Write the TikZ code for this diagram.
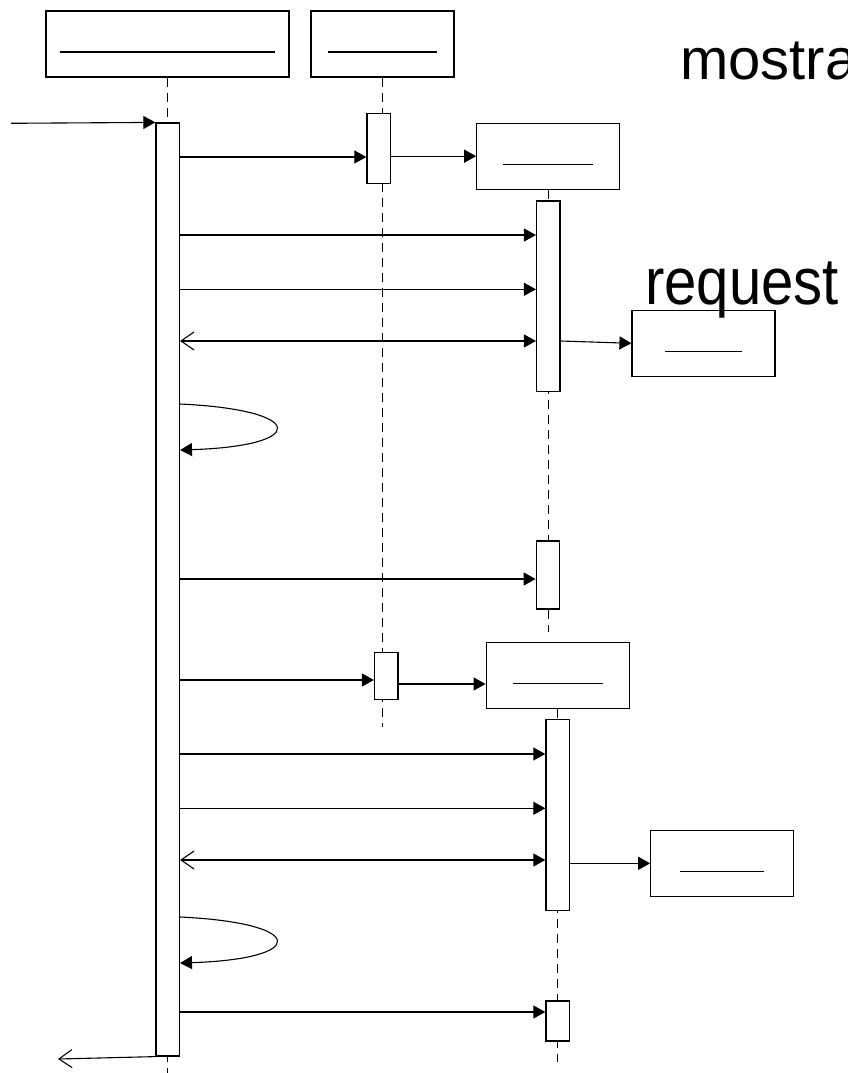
\documentclass[tikz,border=0pt]{standalone}
\usepackage{fontspec}
\setmainfont{Liberation Sans}
\usetikzlibrary{arrows.meta}
\tikzstyle{obj} = [draw,line width=1.2pt,inner sep=0pt,minimum width=143pt,minimum height=66pt]
\tikzstyle{act} = [draw,line width=1.2pt,fill=white,inner sep=0pt,minimum width=23.5pt]
\tikzstyle{life} = [line width=1.1pt,dash pattern=on 9pt off 6pt]
\tikzstyle{blank} = [line width=1.2pt]
\tikzstyle{msg} = [draw,line width=1.1pt,-{Triangle[length=12pt,width=13pt]}]
\tikzstyle{ret} = [draw,line width=1.1pt,-{Straight Barb[length=13pt,width=18pt]}]
\tikzstyle{both} = [draw,line width=1.1pt,{Straight Barb[length=13pt,width=18pt]}-{Triangle[length=12pt,width=13pt]}]

\begin{document}
\begin{tikzpicture}[x=1pt,y=-1pt,big/.style={inner sep=0pt,anchor=base west,font=\fontsize{58}{60}\selectfont}]
    \useasboundingbox (0,0) rectangle (848,1073);

    % objects
    \node[obj,minimum width=243pt] (boxa) at (167.5,44) {};
    \node[obj] (boxb) at (382.5,44) {};
    \node[obj] (boxc) at (548.3,156.2) {};
    \node[obj] (boxd) at (703.5,343.3) {};
    \node[obj] (boxe) at (557.7,675.5) {};
    \node[obj] (boxf) at (722.3,863.3) {};

    \draw[blank] ([xshift=15pt,yshift=-8pt]boxa.west) -- ([xshift=-15pt,yshift=-8pt]boxa.east);
    \draw[blank] ([xshift=18pt,yshift=-8pt]boxb.west) -- ([xshift=-18pt,yshift=-8pt]boxb.east);
    \draw[blank] ([xshift=27pt,yshift=-8.5pt]boxc.west) -- ([xshift=-27pt,yshift=-8.5pt]boxc.east);
    \draw[blank] ([xshift=34pt,yshift=-8.5pt]boxd.west) -- ([xshift=-34pt,yshift=-8.5pt]boxd.east);
    \draw[blank] ([xshift=27pt,yshift=-8.2pt]boxe.west) -- ([xshift=-27pt,yshift=-8.2pt]boxe.east);
    \draw[blank] ([xshift=30pt,yshift=-8.4pt]boxf.west) -- ([xshift=-30pt,yshift=-8.4pt]boxf.east);

    \node[big] (mostra) at (680,79) {mostra};
    \node[big,font=\fontsize{66}{68}\selectfont,xscale=0.88] (request) at (645,304) {request};

    % lifelines
    \coordinate (enda) at (167.5,1073);
    \coordinate (endb) at (382.5,727);
    \coordinate (endc) at (548.3,632);
    \coordinate (ende) at (557.7,1062);
    \draw[life] (boxa.south) -- (enda);
    \draw[life] (boxb.south) -- (endb);
    \draw[life] (boxc.south) -- (endc);
    \draw[life] (boxe.south) -- (ende);

    % activations
    \node[act,minimum height=933pt] (bara) at (167.7,589.5) {};
    \node[act,minimum height=70pt] (barb1) at (378.7,148.2) {};
    \node[act,minimum height=46.6pt] (barb2) at (386.3,676) {};
    \node[act,minimum height=190.7pt] (barc1) at (548.3,296.3) {};
    \node[act,minimum height=68pt] (barc2) at (548,575) {};
    \node[act,minimum height=191pt] (bare1) at (557.7,815) {};
    \node[act,minimum height=40pt] (bare2) at (557.7,1021) {};

    % messages
    \coordinate (start) at (11,123.3);
    \coordinate (exit) at (58,1059);
    \draw[msg] (start) -- (bara.north west);
    \draw[msg] (bara.east |- 0,157) -- (barb1.west |- 0,157);
    \draw[msg] (barb1.east |- 0,156.2) -- (boxc.west);
    \draw[msg] (bara.east |- 0,235) -- (barc1.west |- 0,235);
    \draw[msg] (bara.east |- 0,289.3) -- (barc1.west |- 0,289.3);
    \draw[both] (bara.east |- 0,341) -- (barc1.west |- 0,341);
    \draw[msg] (barc1.east |- 0,341) -- (boxd.west);
    \draw[msg] (bara.east |- 0,404) .. controls (308,410) and (308,446) .. (bara.east |- 0,450);
    \draw[msg] (bara.east |- 0,579) -- (barc2.west |- 0,579);
    \draw[msg] (bara.east |- 0,680) -- (barb2.west |- 0,680);
    \draw[msg] (barb2.east |- 0,684) -- (boxe.west |- 0,684);
    \draw[msg] (bara.east |- 0,754) -- (bare1.west |- 0,754);
    \draw[msg] (bara.east |- 0,808.3) -- (bare1.west |- 0,808.3);
    \draw[both] (bara.east |- 0,860) -- (bare1.west |- 0,860);
    \draw[msg] (bare1.east |- 0,863.3) -- (boxf.west);
    \draw[msg] (bara.east |- 0,917) .. controls (308,923) and (308,959) .. (bara.east |- 0,963);
    \draw[msg] (bara.east |- 0,1012) -- (bare2.west |- 0,1012);
    \draw[ret] (bara.south west) -- (exit);

\end{tikzpicture}
\end{document}
